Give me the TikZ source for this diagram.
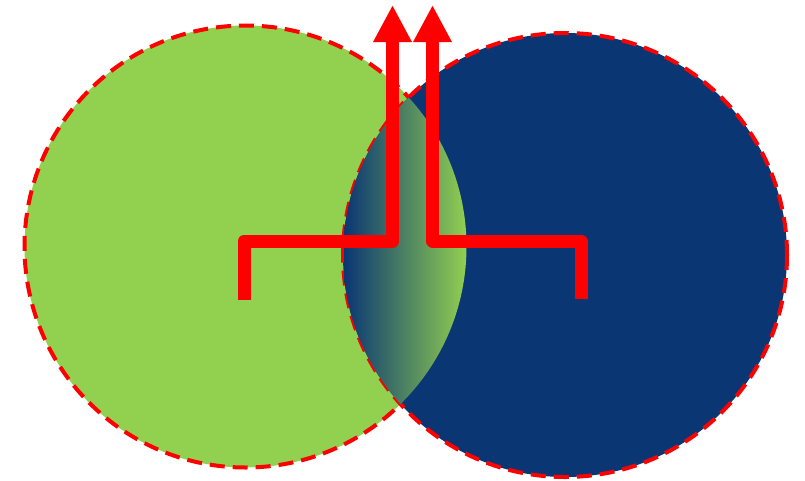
\documentclass[tikz,border=0pt]{standalone}
\usepackage{tikz}
\usetikzlibrary{arrows.meta}
\definecolor{leafgreen}{RGB}{146,208,80}
\definecolor{deepblue}{RGB}{10,54,116}

\begin{document}
\begin{tikzpicture}[x=1pt, y=-1pt, line join=round,
    rim/.style={draw=red, line width=4pt, dash pattern=on 15pt off 8pt},
    flow/.style={draw=red, line width=13pt, -{Triangle[length=37pt, width=36pt]}}]

    \useasboundingbox (0,0) rectangle (805,480);

    % Circle centres and radii (measured from the reference)
    \coordinate (G) at (245.5, 246.5);
    \coordinate (B) at (565, 255);
    \def\rG{221}
    \def\rB{222}

    % Two discs with dashed rims
    \fill[leafgreen] (G) circle (\rG);
    \draw[rim] (G) circle (\rG);
    \fill[deepblue] (B) circle (\rB);
    \draw[rim] (B) circle (\rB);

    % Overlap: blue fading into green
    \begin{scope}
        \clip (G) circle (\rG);
        \clip (B) circle (\rB);
        \shade[left color=deepblue, right color=leafgreen] (344, 90) rectangle (467, 410);
    \end{scope}

    % Arrows leaving both centres
    \coordinate (L0) at (244, 300);
    \coordinate (L1) at (392.5, 241);
    \coordinate (L2) at (392.5, 5);
    \coordinate (R0) at (581, 299);
    \coordinate (R1) at (432.5, 241);
    \coordinate (R2) at (432.5, 5);

    \draw[flow] (L0) |- (L1) -- (L2);
    \draw[flow] (R0) |- (R1) -- (R2);

\end{tikzpicture}
\end{document}
